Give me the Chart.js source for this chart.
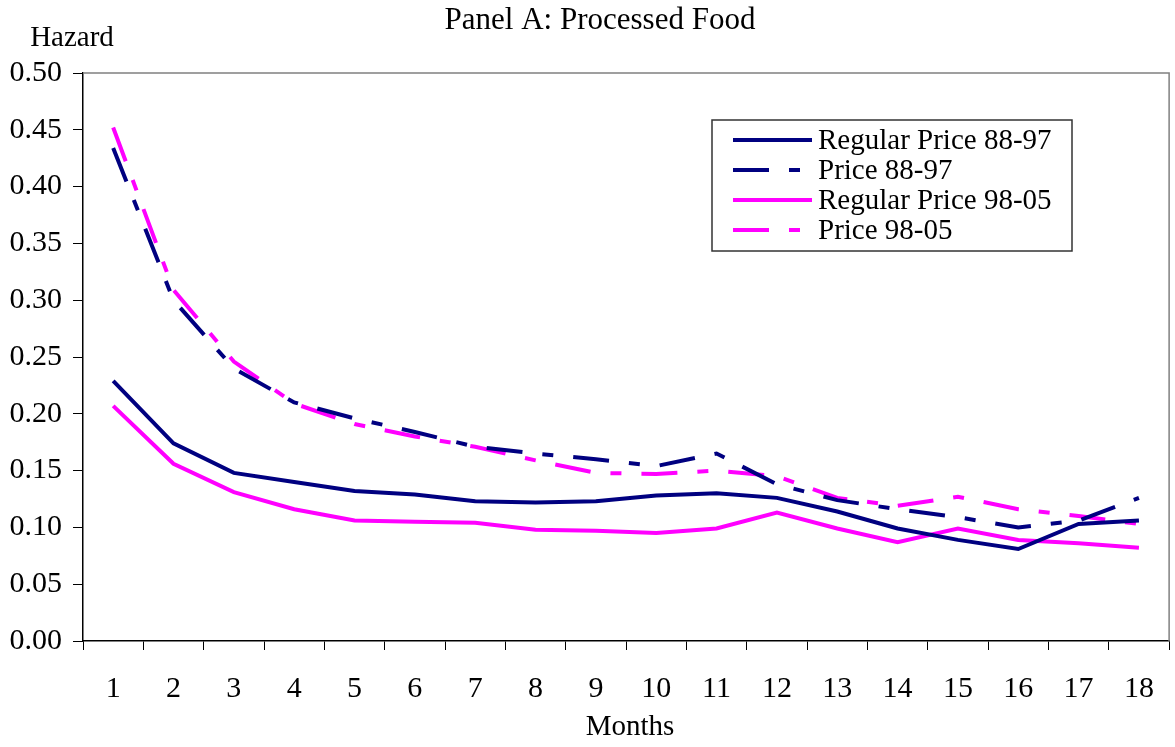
<!DOCTYPE html>
<html>
<head>
<meta charset="utf-8">
<script src="https://cdn.jsdelivr.net/npm/chart.js@4/dist/chart.umd.min.js"></script>
<style>
  html, body { margin: 0; padding: 0; background: #fff; }
  #wrap { width: 1175px; height: 747px; }
</style>
</head>
<body>
<div id="wrap"><canvas id="hazardChart"></canvas></div>
<script>
// ==========================
// Data
// ==========================
const months = ['1','2','3','4','5','6','7','8','9','10','11','12','13','14','15','16','17','18'];
const seriesNames = ['Regular Price 88-97', 'Price 88-97', 'Regular Price 98-05', 'Price 98-05'];
const regular8897 = [0.229,0.174,0.148,0.140,0.132,0.129,0.123,0.122,0.123,0.128,0.130,0.126,0.114,0.099,0.089,0.081,0.103,0.106];
const price8897   = [0.434,0.300,0.240,0.210,0.196,0.184,0.171,0.165,0.160,0.154,0.165,0.138,0.124,0.116,0.109,0.100,0.106,0.126];
const regular9805 = [0.207,0.156,0.131,0.116,0.106,0.105,0.104,0.098,0.097,0.095,0.099,0.113,0.099,0.087,0.099,0.089,0.086,0.082];
const price9805   = [0.452,0.309,0.246,0.209,0.191,0.180,0.171,0.159,0.148,0.147,0.150,0.145,0.126,0.119,0.127,0.116,0.110,0.103];

const NAVY = '#000080';
const MAGENTA = '#ff00ff';
const DASH = [36, 20, 11, 20];
const FONT = '"Liberation Serif", "Times New Roman", serif';

// ==========================
// Extra drawing: frame, titles, legend
// ==========================
const decorPlugin = {
    id: 'decor',
    afterDraw(chart) {
        const { ctx, chartArea: a } = chart;
        ctx.save();

        // top + right frame lines
        ctx.strokeStyle = '#808080';
        ctx.lineWidth = 1.5;
        ctx.beginPath();
        ctx.moveTo(a.left, a.top);
        ctx.lineTo(a.right, a.top);
        ctx.lineTo(a.right, a.bottom);
        ctx.stroke();

        // texts
        ctx.fillStyle = '#000';
        ctx.textAlign = 'center';
        ctx.textBaseline = 'middle';
        ctx.font = `31px ${FONT}`;
        ctx.fillText('Panel A: Processed Food', 600, 21);
        ctx.font = `29px ${FONT}`;
        ctx.fillText('Hazard', 72, 38);
        ctx.fillText('Months', 630, 727);

        // legend box
        const bx = 712, by = 120, bw = 360, bh = 131;
        ctx.fillStyle = '#fff';
        ctx.fillRect(bx, by, bw, bh);
        ctx.strokeStyle = '#333';
        ctx.lineWidth = 1.5;
        ctx.strokeRect(bx, by, bw, bh);

        chart.data.datasets.forEach((ds, i) => {
            const y = 140 + i * 30;
            ctx.strokeStyle = ds.borderColor;
            ctx.lineWidth = 4;
            ctx.setLineDash(ds.borderDash || []);
            ctx.beginPath();
            ctx.moveTo(733, y);
            ctx.lineTo(812, y);
            ctx.stroke();
            ctx.setLineDash([]);
            ctx.fillStyle = '#000';
            ctx.textAlign = 'left';
            ctx.font = `29px ${FONT}`;
            ctx.fillText(ds.label, 818, y + 1);
        });
        ctx.restore();
    }
};

// ==========================
// Chart
// ==========================
function makeSet(label, data, color, dashed) {
    return {
        label, data,
        borderColor: color,
        backgroundColor: color,
        borderWidth: 4,
        borderDash: dashed ? DASH : [],
        pointRadius: 0,
        tension: 0,
        fill: false
    };
}

window.addEventListener('DOMContentLoaded', () => {
    const ctx = document.getElementById('hazardChart').getContext('2d');
    new Chart(ctx, {
        type: 'line',
        data: {
            labels: months,
            datasets: [
                makeSet(seriesNames[0], regular8897, NAVY, false),
                makeSet(seriesNames[1], price8897, NAVY, true),
                makeSet(seriesNames[2], regular9805, MAGENTA, false),
                makeSet(seriesNames[3], price9805, MAGENTA, true)
            ]
        },
        options: {
            responsive: true,
            maintainAspectRatio: false,
            animation: false,
            layout: { padding: { top: 73, right: 2, left: 0, bottom: 0 } },
            plugins: { legend: { display: false }, title: { display: false }, tooltip: { enabled: false } },
            scales: {
                x: {
                    offset: true,
                    afterFit: s => { s.height = 106; },
                    grid: { offset: true, drawOnChartArea: false, drawTicks: true, tickLength: 9, color: '#000', lineWidth: 1 },
                    border: { color: '#000', width: 1.5 },
                    ticks: { color: '#000', padding: 21, maxRotation: 0, autoSkip: false, font: { family: FONT, size: 30 } }
                },
                y: {
                    min: 0, max: 0.5,
                    afterFit: s => { s.width = 83; },
                    grid: { drawOnChartArea: false, drawTicks: true, tickLength: 10, color: '#000', lineWidth: 1 },
                    border: { color: '#000', width: 1.5 },
                    ticks: {
                        stepSize: 0.05, color: '#000', padding: 11,
                        font: { family: FONT, size: 30 },
                        callback: v => Number(v).toFixed(2)
                    }
                }
            }
        },
        plugins: [decorPlugin]
    });
});
</script>
</body>
</html>
